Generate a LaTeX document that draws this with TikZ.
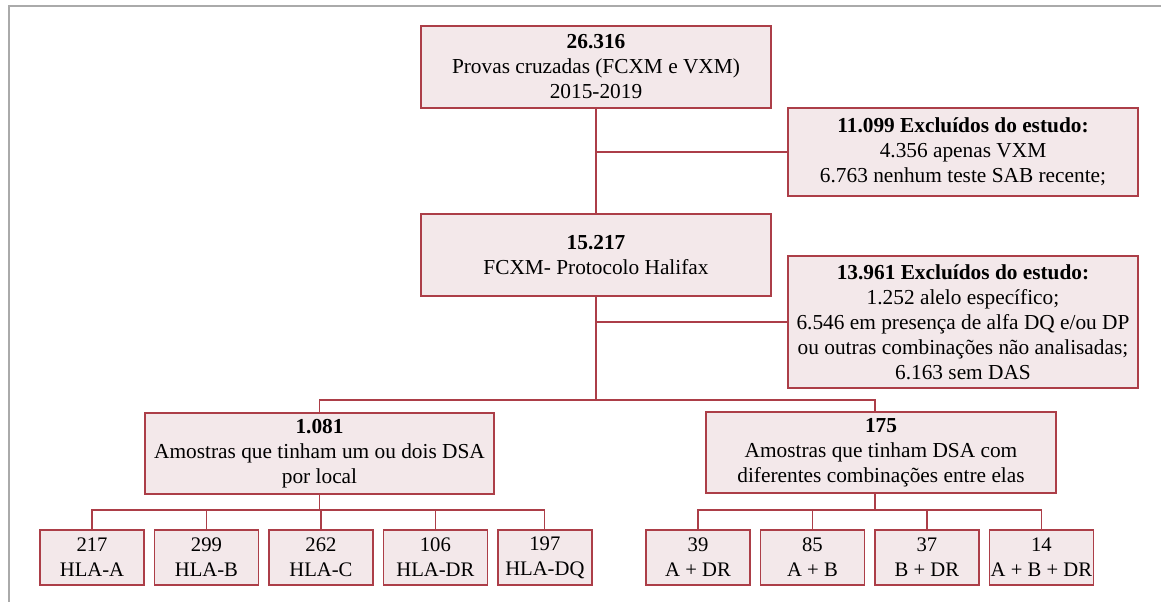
\documentclass[tikz,border=0pt]{standalone}
\usepackage{fontspec}
\setmainfont{Liberation Serif}
\usetikzlibrary{positioning}
\definecolor{vinho}{RGB}{172,62,72}
\definecolor{rosado}{RGB}{243,232,234}
\definecolor{moldura}{RGB}{170,170,170}

\begin{document}
\begin{tikzpicture}[x=0.75pt, y=-0.75pt,
    caixa/.style={draw=vinho, fill=rosado, line width=1.1pt, align=center, inner sep=2pt,
        font=\fontsize{16}{18.75}\selectfont},
    grande/.style={caixa, minimum width=262.5pt, minimum height=61.5pt},
    pequena/.style={caixa, minimum width=78pt, minimum height=41.25pt, inner sep=1pt,
        font=\fontsize{15.5}{18.75}\selectfont},
    linha/.style={draw=vinho, line width=0.9pt}]
    \useasboundingbox (0,0) rectangle (1161,602);
    \draw[moldura, line width=1.5pt] (9,602) -- (9,6) -- (1161,6);

    % etapas principais
    \node[grande] (provas) at (596,67) {\textbf{26.316}\\ Provas cruzadas (FCXM e VXM)\\ 2015-2019};
    \node[caixa, minimum width=262.5pt, minimum height=66pt] (excl1) at (963,152)
        {\textbf{11.099 Excluídos do estudo:}\\ 4.356 apenas VXM\\ 6.763 nenhum teste SAB recente;};
    \node[grande] (halifax) at (596,255) {\textbf{15.217}\\ FCXM- Protocolo Halifax};
    \node[caixa, minimum width=262.5pt, minimum height=99pt] (excl2) at (963,322)
        {\textbf{13.961 Excluídos do estudo:}\\ 1.252 alelo específico;\\
         6.546 em presença de alfa DQ e/ou DP\\ ou outras combinações não analisadas;\\ 6.163 sem DAS};
    \node[caixa, minimum width=261.75pt, minimum height=60.75pt] (local) at (319.5,453.5)
        {\textbf{1.081}\\ Amostras que tinham um ou dois DSA\\ por local};
    \node[caixa, minimum width=262.5pt, minimum height=60.75pt] (combina) at (881,452.5)
        {\textbf{175}\\ Amostras que tinham DSA com\\ diferentes combinações entre elas};

    % por local
    \node[pequena] (hlaA) at (92,557.5) {217\\ HLA-A};
    \node[pequena, right=6.75pt of hlaA] (hlaB) {299\\ HLA-B};
    \node[pequena, right=6.75pt of hlaB] (hlaC) {262\\ HLA-C};
    \node[pequena, right=6.75pt of hlaC] (hlaDR) {106\\ HLA-DR};
    \node[pequena, right=6.75pt of hlaDR, minimum width=70.5pt] (hlaDQ) {197\\ HLA-DQ};

    % combinacoes
    \node[pequena] (aDR) at (698,557.5) {39\\ A + DR};
    \node[pequena, right=6.75pt of aDR] (aB) {85\\ A + B};
    \node[pequena, right=6.75pt of aB] (bDR) {37\\ B + DR};
    \node[pequena, right=6.75pt of bDR] (abDR) {14\\ A + B + DR};

    \coordinate (ramo) at (596,400);
    \coordinate (barraL) at (319.5,510);
    \coordinate (barraR) at (875,510);

    \draw[linha] (provas) -- (halifax);
    \draw[linha] (halifax) -- (ramo);
    \draw[linha] (excl1.west) -- (excl1.west -| provas.south);
    \draw[linha] (excl2.west) -- (excl2.west -| halifax.south);
    \draw[linha] (local.north) |- (ramo) -| (combina.north -| barraR);

    \draw[linha] (local) -- (barraL);
    \draw[linha] (hlaA.north) |- (barraL) -| (hlaDQ.north);
    \foreach \n in {hlaB,hlaC,hlaDR}
        \draw[linha] (\n.north) -- (\n.north |- barraL);

    \draw[linha] (combina.south -| barraR) -- (barraR);
    \draw[linha] (aDR.north) |- (barraR) -| (abDR.north);
    \foreach \n in {aB,bDR}
        \draw[linha] (\n.north) -- (\n.north |- barraR);
\end{tikzpicture}
\end{document}
